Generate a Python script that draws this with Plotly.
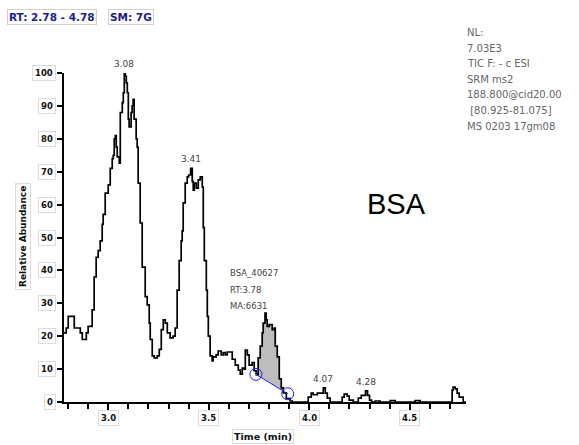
import numpy as np
import plotly.graph_objects as go

# Chromatogram: retention time (min) vs relative abundance (%)
time_min = [
    2.78, 2.791, 2.801, 2.821, 2.831, 2.851, 2.861, 2.871, 2.881, 2.891,
    2.900, 2.915, 2.920, 2.930, 2.940, 2.950, 2.960, 2.970, 2.975, 2.985,
    3.000, 3.010, 3.020, 3.025, 3.030, 3.035, 3.040, 3.045, 3.055, 3.060,
    3.070, 3.075, 3.080, 3.085, 3.090, 3.095, 3.100, 3.104, 3.114, 3.119,
    3.124, 3.129, 3.139, 3.144, 3.149, 3.159, 3.169, 3.184, 3.194, 3.204,
    3.209, 3.219, 3.229, 3.244, 3.254, 3.264, 3.274, 3.284, 3.294, 3.308,
    3.323, 3.333, 3.343, 3.353, 3.363, 3.368, 3.373, 3.383, 3.393, 3.400,
    3.410, 3.418, 3.423, 3.428, 3.438, 3.448, 3.458, 3.468, 3.473, 3.478,
    3.488, 3.493, 3.498, 3.507, 3.517, 3.522, 3.537, 3.547, 3.562, 3.572,
    3.582, 3.592, 3.607, 3.617, 3.632, 3.647, 3.657, 3.667, 3.677, 3.682,
    3.692, 3.701, 3.716, 3.726, 3.736, 3.746, 3.756, 3.766, 3.771, 3.780,
    3.786, 3.791, 3.801, 3.816, 3.826, 3.831, 3.841, 3.851, 3.861, 3.871,
    3.886, 3.905, 3.915, 3.955, 3.990, 3.995, 4.010, 4.020, 4.040, 4.055,
    4.070, 4.080, 4.090, 4.104, 4.154, 4.164, 4.174, 4.189, 4.199, 4.219,
    4.244, 4.259, 4.280, 4.290, 4.300, 4.310, 4.328, 4.353, 4.403, 4.428,
    4.527, 4.552, 4.706, 4.711, 4.716, 4.726, 4.736, 4.746, 4.766, 4.78,
]
abundance = [
    21, 22.5, 26, 26, 22.5, 22.5, 21, 19, 19, 21,
    23, 23, 28, 38, 44, 46, 49, 54, 57, 63.5,
    66, 71, 74, 75, 80, 81, 77.5, 74.5, 72.6, 88,
    91, 94, 100, 99, 97, 94, 86, 83.6, 88, 90,
    92, 86, 80, 77.5, 66.5, 54.4, 41, 32, 29.5, 24,
    19, 14, 13.4, 14, 16, 22, 25, 24, 21, 19.5,
    20, 22.5, 34, 43, 49, 52, 60.5, 66.5, 68.4, 69,
    71, 67, 64.4, 66.5, 65, 67.5, 68.4, 65.3, 53, 43,
    34, 26, 20, 14, 12.5, 13.7, 14.3, 15.5, 14.3, 15,
    14.3, 15.2, 15.2, 13, 11.2, 9.7, 8.5, 10.3, 10, 15.8,
    14.3, 11.2, 12, 9.5, 8.3, 13.4, 17, 21, 24, 27,
    25, 23, 23.5, 22, 22.5, 17, 13.7, 7, 4.3, 2.8,
    1, 0.3, 0, 0, 0, 1.5, 2.7, 2.2, 2.7, 2.7,
    4.3, 2.7, 1.2, 0, 0, 1.5, 2.4, 1.8, 0.6, 0,
    1.2, 2, 3.4, 2, 0.6, 0, 0.3, 0, 0.4, 0,
    0.4, 0, 0, 3.6, 4.5, 4, 2.7, 1.5, 0, 0,
]

# Labelled peaks (retention time, label)
peak_rt = [3.08, 3.41, 4.07, 4.28]
peak_text = ["3.08", "3.41", "4.07", "4.28"]

# Integrated BSA peak: baseline start / end points
base_t = [3.735, 3.893]
base_v = [8.4, 2.5]
bsa_label = ["BSA_40627", "RT:3.78", "MA:6631"]

# Axis ticks
y_ticks = [0, 10, 20, 30, 40, 50, 60, 70, 80, 90, 100]
y_tick_text = [str(v) for v in y_ticks]
x_ticks = [3.0, 3.5, 4.0, 4.5]
x_tick_text = ["3.0", "3.5", "4.0", "4.5"]

# Header text
header_boxes = ["RT: 2.78 - 4.78", "SM: 7G"]
info_lines = ["NL:", "7.03E3", "TIC F: - c ESI", "SRM ms2",
              "188.800@cid20.00", " [80.925-81.075]", "MS 0203 17gm08"]
compound = "BSA"

W, H = 579, 445
ML, MR, MT, MB = 64, 113, 73, 43
SANS = "DejaVu Sans"


def px_x(px):
    """Figure pixel column -> paper x."""
    return (px - ML) / (W - ML - MR)


def px_y(py):
    """Figure pixel row -> paper y."""
    return 1 - (py - MT) / (H - MT - MB)


t = np.array(time_min)
v = np.array(abundance)


def step_value(x):
    """Value of the stepped (hv) trace at time x."""
    idx = np.clip(np.searchsorted(t, x, side="right") - 1, 0, len(t) - 1)
    return v[idx]


fig = go.Figure()

# shaded integration area between stepped trace and baseline
grid = np.linspace(base_t[0], base_t[1], 400)
base = np.interp(grid, base_t, base_v)
upper = np.maximum(step_value(grid), base)
fig.add_trace(go.Scatter(
    x=np.concatenate([grid, grid[::-1]]),
    y=np.concatenate([upper, base[::-1]]),
    fill="toself", fillcolor="#bdbdbd", line=dict(width=0),
    mode="lines", hoverinfo="skip", showlegend=False,
))

# chromatogram trace (stepped, as sampled by the detector)
fig.add_trace(go.Scatter(
    x=t, y=v, mode="lines", line=dict(color="#000000", width=1.7, shape="hv"),
    cliponaxis=False, showlegend=False,
))

# baseline and its end markers
fig.add_trace(go.Scatter(
    x=base_t, y=base_v, mode="lines+markers",
    line=dict(color="#1f1fe6", width=1),
    marker=dict(symbol="circle-open", size=12, color="#1f1fe6",
                line=dict(width=1, color="#1f1fe6")),
    showlegend=False,
))

annotations = []
tick_font = dict(family=SANS, size=8.5, color="#111111")

# y tick labels (boxed)
for val, txt in zip(y_ticks, y_tick_text):
    annotations.append(dict(
        x=0, xref="paper", xanchor="right", xshift=-8,
        y=val, yref="y", yanchor="middle", text="<b>" + txt + "</b>",
        showarrow=False, font=tick_font,
        bordercolor="#dcdcdc", borderwidth=1, borderpad=2,
    ))

# x tick labels (boxed)
for val, txt in zip(x_ticks, x_tick_text):
    annotations.append(dict(
        x=val, xref="x", xanchor="center",
        y=0, yref="paper", yanchor="top", yshift=-8,
        text="<b>" + txt + "</b>", showarrow=False, font=tick_font,
        bordercolor="#dcdcdc", borderwidth=1, borderpad=2,
    ))

# axis titles
annotations.append(dict(
    x=px_x(23), xref="paper", xanchor="center",
    y=px_y(237), yref="paper", yanchor="middle",
    text="<b>Relative Abundance</b>", textangle=-90, showarrow=False,
    font=dict(family=SANS, size=9, color="#111111"),
    bordercolor="#dcdcdc", borderwidth=1, borderpad=2,
))
annotations.append(dict(
    x=px_x(263), xref="paper", xanchor="center",
    y=px_y(436), yref="paper", yanchor="middle",
    text="<b>Time (min)</b>", showarrow=False,
    font=dict(family=SANS, size=9.5, color="#111111"),
    bordercolor="#dcdcdc", borderwidth=1, borderpad=1,
))

# peak labels
for rt, txt in zip(peak_rt, peak_text):
    annotations.append(dict(
        x=rt, y=float(step_value(rt)), xref="x", yref="y",
        xanchor="center", yanchor="bottom", yshift=2, text=txt,
        showarrow=False, font=dict(family=SANS, size=9, color="#444444"),
    ))

# integrated peak label
for i, line in enumerate(bsa_label):
    annotations.append(dict(
        x=px_x(228), xref="paper", xanchor="left",
        y=px_y(273 + 16.5 * i), yref="paper", yanchor="middle",
        text=line, showarrow=False,
        font=dict(family=SANS, size=8.5, color="#444444"),
    ))

# header boxes (top-left)
for x0, txt in zip([7, 108], header_boxes):
    annotations.append(dict(
        x=px_x(x0), xref="paper", xanchor="left",
        y=px_y(17), yref="paper", yanchor="middle",
        text="<b>" + txt + "</b>", showarrow=False,
        font=dict(family=SANS, size=10.5, color="#20208a"),
        bordercolor="#d0d0d0", borderwidth=1, borderpad=1,
    ))

# scan info block (top-right)
for i, line in enumerate(info_lines):
    annotations.append(dict(
        x=px_x(465), xref="paper", xanchor="left",
        y=px_y(33 + 15.5 * i), yref="paper", yanchor="middle",
        text=line, showarrow=False,
        font=dict(family=SANS, size=10, color="#666666"),
    ))

# compound name
annotations.append(dict(
    x=px_x(396), xref="paper", xanchor="center",
    y=px_y(204), yref="paper", yanchor="middle",
    text=compound, showarrow=False,
    font=dict(family="Liberation Sans", size=29, color="#000000"),
))

fig.update_layout(
    width=W, height=H,
    margin=dict(l=ML, r=MR, t=MT, b=MB),
    paper_bgcolor="white", plot_bgcolor="white",
    annotations=annotations,
    xaxis=dict(
        range=[2.78, 4.78], showgrid=False, zeroline=False,
        showline=True, linecolor="#000000", linewidth=1.5,
        ticks="outside", ticklen=6, tickwidth=1.5, tickcolor="#000000",
        tickvals=x_ticks, showticklabels=False,
        minor=dict(dtick=0.1, tick0=2.8, ticks="outside", ticklen=5,
                   tickwidth=1.5, tickcolor="#000000", showgrid=False),
    ),
    yaxis=dict(
        range=[0, 100], showgrid=False, zeroline=False,
        showline=True, linecolor="#000000", linewidth=1.5,
        ticks="outside", ticklen=5, tickwidth=1.5, tickcolor="#000000",
        tickvals=y_ticks, showticklabels=False,
    ),
)

fig.write_html("out.html")
